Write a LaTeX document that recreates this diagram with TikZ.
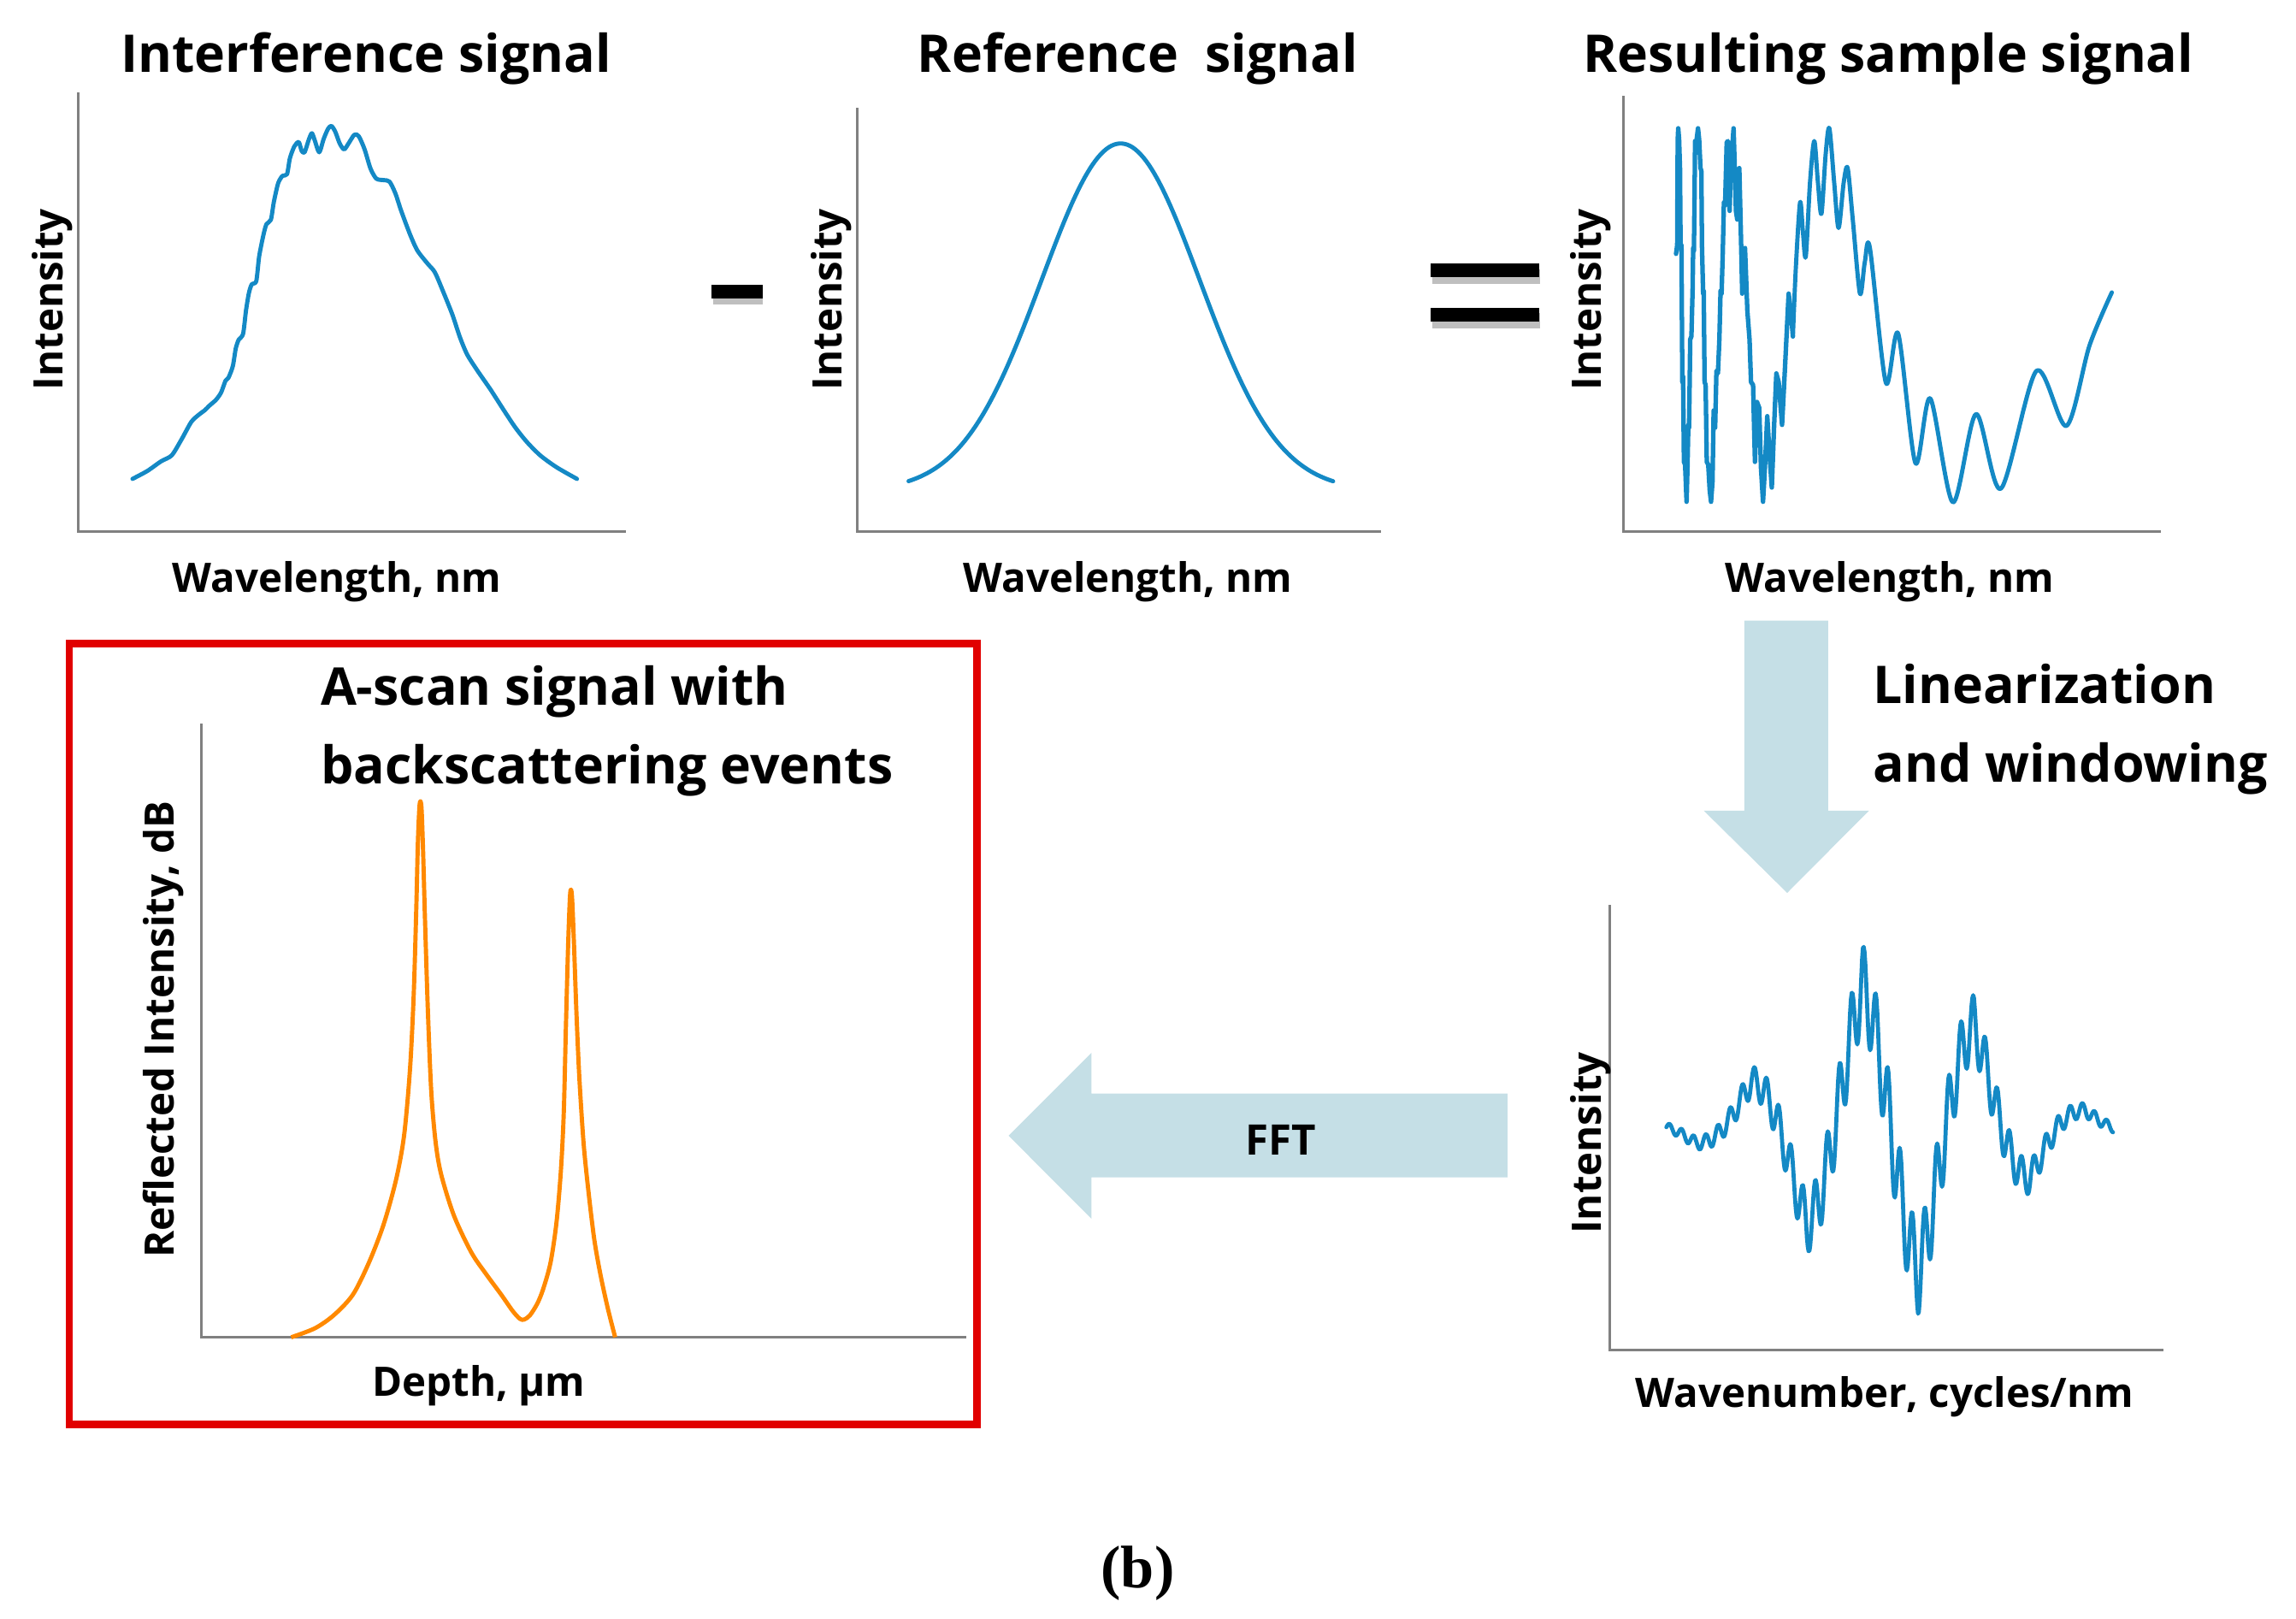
\documentclass[tikz,border=0pt]{standalone}
\usepackage{fontspec}
\setmainfont{Open Sans}
\newfontfamily\capfont{Liberation Serif}
\definecolor{curveblue}{RGB}{20,137,197}
\definecolor{peakorange}{RGB}{255,137,0}
\definecolor{boxred}{RGB}{225,0,0}
\definecolor{arrowfill}{RGB}{197,223,230}
\definecolor{axisgray}{RGB}{128,128,128}
\begin{document}
\begin{tikzpicture}[x=0.017124cm,y=-0.017124cm,
  axisline/.style={draw=axisgray,line width=0.9pt},
  sig/.style={draw=curveblue,line width=1.4pt,line join=round,line cap=round},
  ttl/.style={font=\fontsize{17.3}{20}\selectfont\bfseries,inner sep=0pt,anchor=base},
  lbl/.style={font=\fontsize{13.5}{16}\selectfont\bfseries,inner sep=0pt,anchor=base},
  ylbl/.style={font=\fontsize{13.5}{16}\selectfont\bfseries,inner sep=0pt,anchor=base,rotate=90},
  bigarrow/.style={fill=arrowfill,draw=none},
  opbar/.style={fill=black,draw=none},
  opshadow/.style={fill=black!25,draw=none}]
\useasboundingbox (0,0) rectangle (1568,1105);

% ---------- Panel 1: interference signal ----------
\node[ttl] (t1) at (250,49.6) {Interference signal};
\coordinate (o1) at (53.6,363);
\draw[axisline] (53.6,63) -- (o1) -- (427.4,363);
\node[ylbl] (y1) at (43,204.5) {Intensity};
\node[lbl] (x1) at (230,404.7) {Wavelength, nm};
\draw[sig] plot[smooth,tension=0.45] coordinates {
 (90.5,327) (100.6,321.6) (110,315) (117.3,310.9) (124,300) (130.7,288) (136,283) (140,280)
 (143,277) (147.5,273) (151,268) (154,260) (156,258) (159,250) (161,238) (163,232) (166,228)
 (168,212) (170,200) (172,194) (175,192) (177,175) (180,160) (182,153) (185,150) (187,138)
 (190,125) (193,120) (196,119) (198,108) (201,100) (204,97) (206,103) (208,104) (211,95)
 (213,91) (215,96) (218,104) (221,95) (224,88) (226.3,86) (229,90) (232,98) (235,102)
 (238,98) (242,92) (245,93) (249,102) (253,115) (257,122) (262,123) (266,124) (270,132)
 (274,144) (280,160) (285,171) (292,180) (297,186) (303,200) (309,215) (314,230) (319,242)
 (326,253) (335,266) (344,280) (352,292) (360,302) (369,311) (380,319) (394,327)};

% minus sign
\fill[opshadow] (487,198) rectangle (521,208);
\fill[opbar] (486,194.5) rectangle (521,204);

% ---------- Panel 2: reference signal ----------
\node[ttl] (t2) at (777,49.6) {Reference\ \ signal};
\coordinate (o2) at (585.3,363);
\draw[axisline] (585.3,73.7) -- (o2) -- (943,363);
\node[ylbl] (y2) at (575,204.5) {Intensity};
\node[lbl] (x2) at (770.3,404.7) {Wavelength, nm};
\draw[sig] plot[domain=620.5:910.4,samples=160] (\x,{335-237*exp(-0.5*((\x-765.3)/54)^2)});

% equals sign
\fill[opshadow] (978,184) rectangle (1052,194);
\fill[opshadow] (978,214) rectangle (1052,224);
\fill[opbar] (977,180) rectangle (1051,189);
\fill[opbar] (977,210.3) rectangle (1051,219.3);

% ---------- Panel 3: resulting sample signal ----------
\node[ttl] (t3) at (1289.7,49.6) {Resulting sample signal};
\coordinate (o3) at (1108.6,363);
\draw[axisline] (1108.6,65.7) -- (o3) -- (1475.9,363);
\node[ylbl] (y3) at (1093.4,204.5) {Intensity};
\node[lbl] (x3) at (1290.5,404.7) {Wavelength, nm};
\draw[sig,line width=1.5pt] plot coordinates {
 (1144.6,173.3) (1145.4,167.4) (1145.75,95.4) (1146.1,87.6) (1146.7,95.4) (1147.3,114.8)
 (1147.7,169.4) (1148.3,167.4) (1148.5,200.5) (1148.9,260.9) (1149.4,257) (1150.0,315.4)
 (1150.8,317.3) (1151.8,342.6) (1152.4,319.3) (1153.0,290.1) (1153.5,292) (1154.3,231.7)
 (1155.1,229.7) (1155.9,198.6) (1156.3,169.4) (1156.8,171.3) (1157.2,138.2) (1157.6,96.3)
 (1158.2,99.3) (1159.6,87.6) (1160.4,95.4) (1161.3,114.8) (1161.9,116.8) (1162.3,167.4)
 (1163.1,200.5) (1163.5,198.6) (1164.1,260.9) (1164.8,262.8) (1165.6,315.4) (1166.6,317.3)
 (1167.6,334.9) (1168.5,342.6) (1169.5,329) (1170.3,280.3) (1171.3,292) (1172.2,253.1)
 (1173.2,255) (1174.2,231.7) (1175.0,198.6) (1175.7,200.5) (1176.5,173.25) (1177.3,138.2)
 (1178.1,140.2) (1179.2,97.3) (1180.0,96.3) (1181.2,144.0) (1182.0,114.8) (1183.1,99.3)
 (1183.9,87.6) (1184.7,114.8) (1185.5,144.0) (1186.4,149.9) (1187.8,114.8) (1188.8,155.7)
 (1189.8,200.5) (1190.7,173.25) (1191.7,169.4) (1193.3,212.2) (1194.8,231.7) (1195.8,260.9)
 (1197.2,262.8) (1198.5,315.4) (1199.9,274.5) (1201.4,278.4) (1202.6,319.3) (1204.0,342.6)
 (1205.3,319.3) (1206.9,284.2) (1208.4,309.5) (1210.0,332.9) (1211.6,290.1) (1213.1,255)
 (1214.7,260.9) (1217.0,290.1) (1219.0,251.1) (1221.5,200.5) (1223.0,212.2) (1224.4,229.7)};
\draw[sig] plot[smooth,tension=0.5] coordinates {
 (1224.4,229.7) (1226.4,183) (1229.3,138.2) (1231.2,157.7) (1233.2,175.2) (1236.1,124.6)
 (1239.0,96.3) (1241.5,124.6) (1243.9,146) (1246.8,105.1) (1249.3,87.6) (1252.6,124.6)
 (1255.6,155.7) (1259.1,124.6) (1261.8,114.8) (1265.3,149.9) (1270.2,200.5) (1273.5,179.1)
 (1277.0,169.4) (1287.9,261.3) (1296.3,227.8) (1308.1,316.2) (1318.2,272) (1333.7,343)
 (1349.5,282.7) (1366.4,333.7) (1390.7,253.3) (1411.2,290.8) (1427,235.8) (1442.2,199.7)};

% ---------- Linearization arrow ----------
\coordinate (da1) at (1191.2,423.8);
\coordinate (datip) at (1220.5,609.7);
\fill[bigarrow] (da1) -- (1248.4,423.8) -- (1248.4,553.5) -- (1276.4,553.5) -- (datip)
  -- (1163.5,553.5) -- (1191.2,553.5) -- cycle;
\node[ttl,anchor=base west] (lin1) at (1278.7,480.3) {Linearization};
\node[ttl,anchor=base west] (lin2) at (1278.7,533.9) {and windowing};

% ---------- Panel 4: wavenumber ----------
\coordinate (o4) at (1099.5,921.7);
\draw[axisline] (1099.5,617.9) -- (o4) -- (1477.6,921.7);
\node[ylbl] (y4) at (1093.4,780.5) {Intensity};
\node[lbl] (x4) at (1287,961) {Wavenumber, cycles/nm};
\draw[sig,line width=1.35pt] plot[domain=1138:1443,samples=560]
 (\x,{770-103*exp(-0.5*((\x-1293)/63)^2)*(0.45*cos(4.737*(\x-1272))
   +0.55*asin(cos(4.737*(\x-1272)))/90+0.27*sin(43.4*(\x-1138)))
   -1.5*sin(43.4*(\x-1138))});

% ---------- FFT arrow ----------
\coordinate (fa1) at (1029.5,746.7);
\coordinate (fatip) at (688.8,775.5);
\fill[bigarrow] (fa1) -- (745.4,746.7) -- (745.4,718.8) -- (fatip) -- (745.4,832.2)
  -- (745.4,803.9) -- (1029.5,803.9) -- cycle;
\node[font=\fontsize{14}{16}\selectfont\bfseries,inner sep=0pt,anchor=base] (fft) at (874.4,788.4) {FFT};

% ---------- A-scan panel ----------
\draw[boxred,line width=2.5pt] (47.3,439.5) rectangle (667.2,972.5);
\node[ttl,anchor=base west] (as1) at (218.6,481.7) {A-scan signal with};
\node[ttl,anchor=base west] (as2) at (218.6,535.3) {backscattering events};
\coordinate (o5) at (137.5,913.1);
\draw[axisline] (137.5,494.2) -- (o5) -- (659.8,913.1);
\node[ylbl] (y5) at (119,703) {Reflected Intensity, dB};
\node[lbl] (x5) at (327,953.6) {Depth, µm};
\draw[draw=peakorange,line width=1.4pt,line join=round] plot[smooth,tension=0.5] coordinates {
 (198.9,913.1) (215,907) (228,898) (241,884) (252,862) (262,836) (270.6,805) (276,775)
 (280,730) (282.5,680) (284.3,620) (285.4,575) (286.6,549) (287.8,551) (288.9,580)
 (290.3,630) (292.2,690) (294.5,745) (297.5,780) (301.3,802) (310,830) (321.8,855)
 (332,870) (342.3,884) (350,895) (355,900.5) (358,901) (362,898) (367,890) (371,880)
 (376,862) (380,835) (383,800) (385,760) (386.5,700) (388,645) (389.4,610) (390.6,612)
 (392,645) (393.6,690) (395.6,735) (398.5,780) (401.7,812) (405.8,846) (410,870)
 (415,893) (420.1,913.1)};

% ---------- caption ----------
\node[font=\capfont\fontsize{20}{24}\selectfont\bfseries,inner sep=0pt] (cap) at (777,1074) {(b)};
\end{tikzpicture}
\end{document}
